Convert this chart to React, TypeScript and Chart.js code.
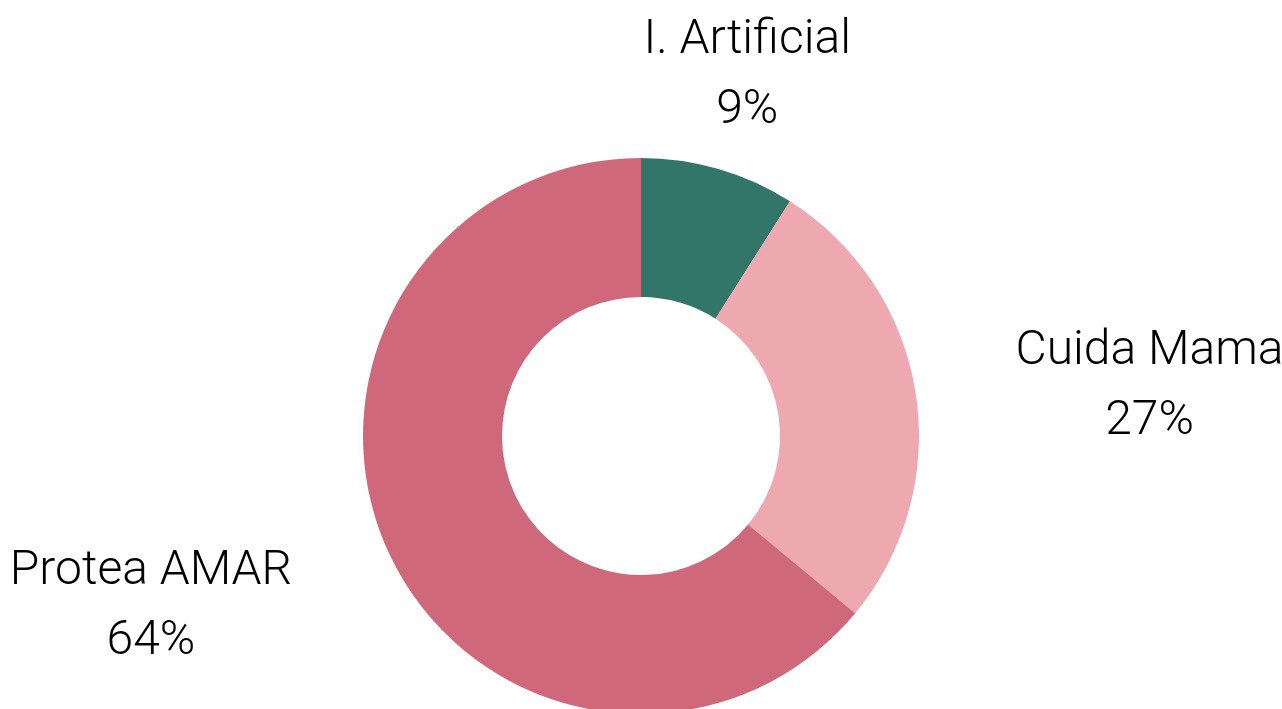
import React, { useEffect, useRef } from "react";
import { Chart, registerables } from "chart.js";

Chart.register(...registerables);

const categories = ["I. Artificial", "Cuida Mama", "Protea AMAR"];
const values = [9, 27, 64];
const percentLabels = ["9%", "27%", "64%"];
const colors = ["#32766A", "#EEA8AF", "#CE687A"];

// label placement: radial distance (× outer radius) and angle shift (deg) from slice mid-angle
const labelDistance = [1.37, 1.84, 1.86];
const labelAngleShift = [0, 2.8, 6.6];

const labelPlugin = {
  id: "outsideLabels",
  afterDatasetsDraw(chart: any) {
    const ctx = chart.ctx;
    const meta = chart.getDatasetMeta(0);
    ctx.save();
    ctx.fillStyle = "#000000";
    ctx.textAlign = "center";
    ctx.textBaseline = "alphabetic";
    ctx.font = "300 48px Roboto";
    meta.data.forEach((arc: any, i: number) => {
      const { x, y, startAngle, endAngle, outerRadius } = arc.getProps(
        ["x", "y", "startAngle", "endAngle", "outerRadius"],
        true
      );
      const mid = (startAngle + endAngle) / 2 + (labelAngleShift[i] * Math.PI) / 180;
      const r = outerRadius * labelDistance[i];
      const cx = x + Math.cos(mid) * r;
      const cy = y + Math.sin(mid) * r;
      ctx.fillText(categories[i], cx, cy - 17);
      ctx.fillText(percentLabels[i], cx, cy + 53);
    });
    ctx.restore();
  },
};

export default function App() {
  const ref = useRef<HTMLCanvasElement | null>(null);
  useEffect(() => {
    document.body.style.margin = "0";
    document.body.style.overflow = "hidden";
    const chart = new Chart(ref.current as HTMLCanvasElement, {
      type: "doughnut",
      data: {
        labels: categories,
        datasets: [
          {
            data: values,
            backgroundColor: colors,
            borderWidth: 0,
          },
        ],
      },
      options: {
        responsive: false,
        animation: false,
        cutout: "50%",
        layout: { padding: { top: 158, bottom: 46, left: 363, right: 363 } },
        plugins: {
          legend: { display: false },
          tooltip: { enabled: false },
        },
      },
      plugins: [labelPlugin],
    });
    return () => chart.destroy();
  }, []);
  return (
    <div style={{ position: "fixed", left: 0, top: 0, width: 1282, height: 760, background: "#fff" }}>
      <canvas ref={ref} width={1282} height={760} />
    </div>
  );
}
